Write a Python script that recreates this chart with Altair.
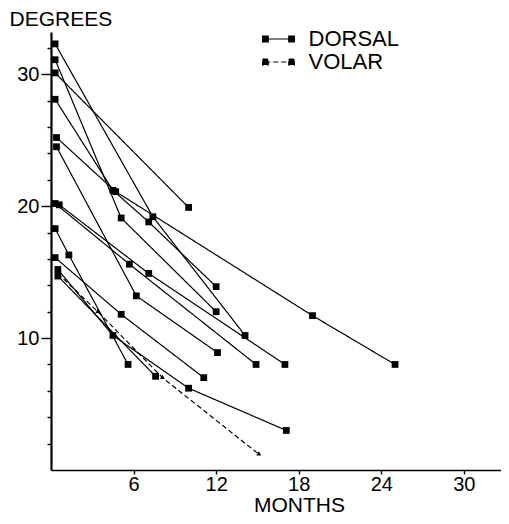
import altair as alt
import pandas as pd

# ---- data (months after injury, angulation in degrees) ----
path_ids = ["D1", "D2", "D3", "D4", "D5", "D6", "D7", "D8", "D9", "D10", "D11", "D12", "V1"]
path_types = ["DORSAL"] * 12 + ["VOLAR"]
path_months = [
    [0.3, 7.4, 14.1],
    [0.3, 5.1, 12.0],
    [0.3, 10.0],
    [0.3, 4.5, 7.1, 12.0],
    [0.4, 4.7, 19.0, 25.0],
    [0.4, 6.2, 12.1],
    [0.3, 5.7, 14.9],
    [0.6, 7.1, 17.0],
    [0.3, 1.3, 5.6],
    [0.3, 5.1, 11.1],
    [0.5, 4.5, 10.0, 17.1],
    [0.5, 7.6],
    [0.5, 3.4, 8.1, 15.1],
]
path_degrees = [
    [32.3, 19.2, 10.2],
    [31.1, 19.1, 12.0],
    [30.1, 19.9],
    [28.1, 21.2, 18.8, 13.9],
    [25.2, 21.1, 11.7, 8.0],
    [24.5, 13.2, 8.9],
    [20.2, 15.6, 8.0],
    [20.1, 14.9, 8.0],
    [18.3, 16.3, 8.0],
    [16.1, 11.8, 7.0],
    [15.2, 10.2, 6.2, 3.0],
    [14.7, 7.1],
    [14.9, 12.0, 7.0, 1.2],
]
legend_labels = ["DORSAL", "VOLAR"]
x_tick_values = [6, 12, 18, 24, 30]
y_tick_values = list(range(2, 34, 2))

rows = []
for pid, ptype, ms, ds in zip(path_ids, path_types, path_months, path_degrees):
    for i, (m, d) in enumerate(zip(ms, ds)):
        rows.append({"path": pid, "type": ptype, "step": i, "month": m, "degrees": d})
df = pd.DataFrame(rows)

FONT = "Liberation Sans"

x_enc = alt.X(
    "month:Q",
    scale=alt.Scale(domain=[0, 32.7], nice=False),
    axis=alt.Axis(
        values=x_tick_values, title="MONTHS", titleX=248, titleY=45,
        titleAlign="center", titleBaseline="bottom", titleFontSize=21,
        titleFontWeight="normal", tickSize=4, labelPadding=0,
        domainWidth=1.6, labelFlush=False,
    ),
)
y_enc = alt.Y(
    "degrees:Q",
    scale=alt.Scale(domain=[0, 33.2], nice=False),
    axis=alt.Axis(
        values=y_tick_values,
        labelExpr="datum.value % 10 === 0 ? datum.label : ''",
        tickSize=alt.condition("datum.value % 10 === 0", alt.value(10), alt.value(4)),
        labelPadding=2, title="DEGREES", titleAngle=0, titleAlign="left",
        titleBaseline="alphabetic", titleX=-42, titleY=-7, titleFontSize=21,
        titleFontWeight="normal", domainWidth=2.2, labelFlush=False,
    ),
)

legend_symbol = ("M-1.2,0H1.2 M-1.45,-0.27H-0.93V0.27H-1.45Z "
                 "M0.93,-0.27H1.45V0.27H0.93Z")

base = alt.Chart(df)

lines = base.mark_line(color="black", strokeWidth=1.2).encode(
    x=x_enc, y=y_enc, detail="path:N", order="step:O",
    strokeDash=alt.StrokeDash(
        "type:N",
        scale=alt.Scale(domain=legend_labels, range=[[1, 0], [5, 3]]),
        legend=alt.Legend(
            title=None, orient="none", legendX=215.5, legendY=-5,
            symbolType=legend_symbol, symbolSize=484,
            symbolFillColor="black", symbolStrokeColor="black",
            symbolStrokeWidth=1.1, symbolOpacity=1,
            labelFont=FONT, labelFontSize=22, labelColor="black",
            labelOffset=18, rowPadding=0, padding=0,
        ),
    ),
)

dorsal_pts = base.transform_filter("datum.type === 'DORSAL'").mark_square(
    size=46, color="black", opacity=1
).encode(x=x_enc, y=y_enc)

volar_pts = base.transform_filter("datum.type === 'VOLAR'").mark_point(
    shape="triangle", filled=True, size=24, color="black", opacity=1
).encode(x=x_enc, y=y_enc)

chart = alt.layer(lines, dorsal_pts, volar_pts).properties(
    width=450, height=438,
    padding={"left": 43, "top": 24, "right": 0, "bottom": 46},
    autosize=alt.AutoSizeParams(type="none"),
).configure(font=FONT).configure_view(strokeWidth=0).configure_axis(
    domainColor="black", tickColor="black", tickWidth=1.4, grid=False,
    labelFont=FONT, labelFontSize=20, labelColor="black",
    titleFont=FONT, titleColor="black",
)

chart.save("out.html", embed_options={"renderer": "svg", "actions": False})
